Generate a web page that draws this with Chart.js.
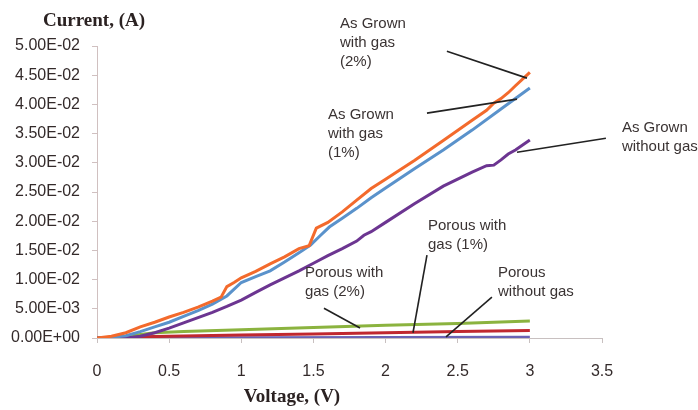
<!DOCTYPE html>
<html>
<head>
<meta charset="utf-8">
<script src="https://cdn.jsdelivr.net/npm/chart.js@4.4.0/dist/chart.umd.min.js"></script>
<style>
  html, body { margin: 0; padding: 0; background: #fff; }
  #wrap { width: 698px; height: 410px; }
</style>
</head>
<body>
<div id="wrap"><canvas id="chart" width="698" height="410"></canvas></div>
<script>
// ---- datos (Voltaje V, Corriente A) ----
const grown2V = [0, 0.1, 0.2, 0.3, 0.4, 0.5, 0.6, 0.7, 0.8, 0.86, 0.9, 0.95, 1.0, 1.1, 1.2, 1.3, 1.4, 1.47, 1.52, 1.6, 1.7, 1.8, 1.9, 2.0, 2.2, 2.4, 2.6, 2.7, 2.75, 2.8, 2.85, 2.9, 3.0];
const grown2I = [0, 0.0003, 0.0009, 0.0019, 0.0027, 0.0036, 0.0044, 0.0053, 0.0063, 0.0070, 0.0088, 0.0095, 0.0103, 0.0114, 0.0127, 0.0139, 0.0153, 0.0158, 0.0188, 0.0198, 0.0216, 0.0236, 0.0256, 0.0272, 0.0304, 0.0338, 0.0373, 0.0390, 0.0402, 0.0410, 0.0420, 0.0432, 0.0455];

const grown1V = [0, 0.1, 0.2, 0.3, 0.4, 0.5, 0.6, 0.7, 0.8, 0.9, 1.0, 1.1, 1.2, 1.3, 1.4, 1.48, 1.55, 1.61, 1.7, 1.8, 1.9, 2.0, 2.2, 2.4, 2.6, 2.8, 2.9, 3.0];
const grown1I = [0, 0.0001, 0.0004, 0.0011, 0.0019, 0.0027, 0.0037, 0.0047, 0.0058, 0.0072, 0.0095, 0.0105, 0.0115, 0.0130, 0.0146, 0.0159, 0.0176, 0.0190, 0.0205, 0.0222, 0.0240, 0.0257, 0.0290, 0.0322, 0.0356, 0.0392, 0.0410, 0.0428];

const grown0V = [0, 0.2, 0.3, 0.4, 0.5, 0.6, 0.7, 0.8, 0.9, 1.0, 1.1, 1.2, 1.3, 1.4, 1.5, 1.6, 1.7, 1.8, 1.85, 1.9, 2.0, 2.2, 2.4, 2.6, 2.7, 2.75, 2.8, 2.85, 2.9, 3.0];
const grown0I = [0, 0, 0.0003, 0.0009, 0.0017, 0.0026, 0.0035, 0.0044, 0.0054, 0.0065, 0.0078, 0.0091, 0.0103, 0.0115, 0.0128, 0.0141, 0.0153, 0.0166, 0.0176, 0.0182, 0.0198, 0.0230, 0.0260, 0.0284, 0.0295, 0.0296, 0.0305, 0.0315, 0.0322, 0.0339];

const porous2V = [0, 0.2, 0.3, 0.4, 0.6, 1.0, 1.5, 2.0, 2.5, 3.0];
const porous2I = [0, 0.0002, 0.0006, 0.0009, 0.0011, 0.0014, 0.0018, 0.0022, 0.0025, 0.0029];

const porous1V = [0, 0.3, 0.5, 1.0, 1.5, 2.0, 2.5, 3.0];
const porous1I = [0, 0.0002, 0.0003, 0.0005, 0.0007, 0.0009, 0.0011, 0.0013];

const porous0V = [0, 0.5, 1.0, 2.0, 3.0];
const porous0I = [0, 0.00003, 0.00005, 0.0001, 0.00012];

const xTicks = [0, 0.5, 1, 1.5, 2, 2.5, 3, 3.5];

// etiquetas con flecha: texto (V, A) y extremos de la linea (V, A)
const notes = [
    { text: ['As Grown', 'with gas', '(2%)'], at: [1.684, 0.0538], from: [2.425, 0.0491], to: [2.98, 0.0445] },
    { text: ['As Grown', 'with gas', '(1%)'], at: [1.601, 0.0382], from: [2.287, 0.0385], to: [2.911, 0.0409] },
    { text: ['As Grown', 'without gas'], at: [3.638, 0.0360], from: [3.527, 0.0342], to: [2.911, 0.0318] },
    { text: ['Porous with', 'gas (1%)'], at: [2.294, 0.0192], from: [2.287, 0.0142], to: [2.19, 0.0009] },
    { text: ['Porous with', 'gas (2%)'], at: [1.441, 0.0111], from: [1.573, 0.0051], to: [1.823, 0.0017] },
    { text: ['Porous', 'without gas'], at: [2.779, 0.0111], from: [2.737, 0.0070], to: [2.419, 0.0002] }
];

function pts(xs, ys) {
    return xs.map((x, i) => ({ x: x, y: ys[i] }));
}

function sci(v) {
    if (Math.abs(v) < 1e-12) return '0.00E+00';
    const s = v.toExponential(2).split('e');
    const e = parseInt(s[1], 10);
    const sign = e < 0 ? '-' : '+';
    const ee = String(Math.abs(e)).padStart(2, '0');
    return s[0] + 'E' + sign + ee;
}

function line(label, data, color) {
    return {
        label: label,
        data: data,
        borderColor: color,
        backgroundColor: color,
        borderWidth: 3,
        pointRadius: 0,
        tension: 0,
        fill: false
    };
}

const notesPlugin = {
    id: 'notes',
    afterDatasetsDraw(chart) {
        const ctx = chart.ctx;
        const xs = chart.scales.x, ys = chart.scales.y;
        ctx.save();
        ctx.strokeStyle = '#222';
        ctx.lineWidth = 1.6;
        notes.forEach(n => {
            ctx.beginPath();
            ctx.moveTo(xs.getPixelForValue(n.from[0]), ys.getPixelForValue(n.from[1]));
            ctx.lineTo(xs.getPixelForValue(n.to[0]), ys.getPixelForValue(n.to[1]));
            ctx.stroke();
        });
        ctx.fillStyle = '#3a3333';
        ctx.font = '15px "Liberation Sans", Arial, sans-serif';
        ctx.textBaseline = 'middle';
        ctx.textAlign = 'left';
        notes.forEach(n => {
            const x0 = xs.getPixelForValue(n.at[0]);
            const y0 = ys.getPixelForValue(n.at[1]);
            n.text.forEach((t, i) => ctx.fillText(t, x0, y0 + i * 19));
        });
        // titulos de ejes
        ctx.fillStyle = '#2b2222';
        ctx.font = 'bold 19px "Liberation Serif", "Times New Roman", serif';
        ctx.textAlign = 'left';
        ctx.fillText('Current, (A)', 43, 21);
        ctx.textAlign = 'center';
        ctx.fillText('Voltage, (V)', 292, 397);
        ctx.restore();
    }
};

new Chart(document.getElementById('chart'), {
    type: 'line',
    data: {
        datasets: [
            line('As Grown with gas (2%)', pts(grown2V, grown2I), '#F36A2C'),
            line('As Grown with gas (1%)', pts(grown1V, grown1I), '#5A92CB'),
            line('As Grown without gas', pts(grown0V, grown0I), '#6C3591'),
            line('Porous with gas (2%)', pts(porous2V, porous2I), '#8BB33F'),
            line('Porous with gas (1%)', pts(porous1V, porous1I), '#C0282F'),
            line('Porous without gas', pts(porous0V, porous0I), '#6A63B5')
        ]
    },
    options: {
        responsive: false,
        animation: false,
        layout: { padding: { left: 0, top: 46, right: 96, bottom: 0 } },
        plugins: {
            legend: { display: false },
            tooltip: { enabled: false }
        },
        scales: {
            x: {
                type: 'linear',
                min: 0,
                max: 3.5,
                afterFit: s => { s.height = 72; },
                afterBuildTicks: s => { s.ticks = xTicks.map(v => ({ value: v })); },
                ticks: {
                    color: '#332a2a',
                    font: { family: '"Liberation Sans", Arial, sans-serif', size: 16 },
                    padding: 19,
                    maxRotation: 0,
                    callback: v => String(v)
                },
                grid: { drawOnChartArea: false, drawTicks: true, tickLength: 5, color: '#c8c0c0' },
                border: { color: '#c8c0c0' }
            },
            y: {
                min: 0,
                max: 0.05,
                afterFit: s => { s.width = 97; },
                ticks: {
                    stepSize: 0.005,
                    color: '#332a2a',
                    font: { family: '"Liberation Sans", Arial, sans-serif', size: 16 },
                    padding: 12,
                    callback: v => sci(v)
                },
                grid: { drawOnChartArea: false, drawTicks: true, tickLength: 5, color: '#d0c0c0' },
                border: { color: '#d0c0c0' }
            }
        }
    },
    plugins: [notesPlugin]
});
</script>
</body>
</html>
